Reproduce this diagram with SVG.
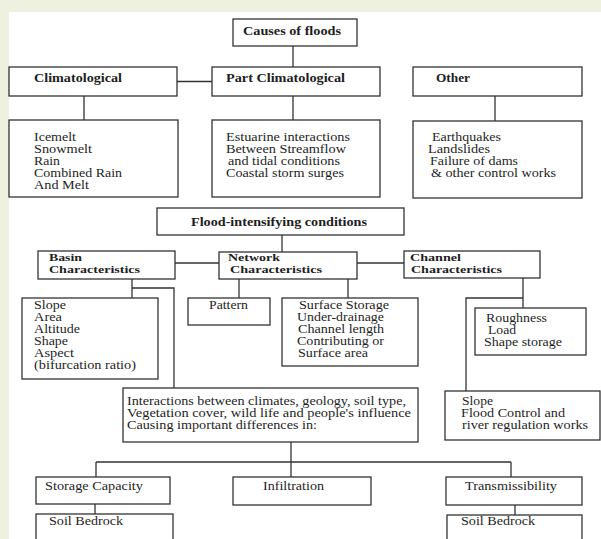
<svg xmlns="http://www.w3.org/2000/svg" width="601" height="539" viewBox="0 0 601 539">
<style>
.bx{fill:#fff;stroke:#333;stroke-width:1.3}
.ln{fill:none;stroke:#333;stroke-width:1.3}
text{font-family:"Liberation Serif","Times New Roman",serif;font-size:11.5px;fill:#1e1e1e}
.b{font-weight:bold;font-size:12px}
.b2{font-weight:bold;font-size:11px}
</style>
<rect x="0" y="0" width="601" height="539" fill="#eef0e0"/>
<rect x="9" y="12" width="592" height="527" fill="#fff"/>
<g id="connectors">
<line class="ln" x1="293" y1="46" x2="293" y2="67"/>
<line class="ln" x1="177" y1="81.5" x2="212" y2="81.5"/>
<line class="ln" x1="84" y1="96" x2="84" y2="120"/>
<line class="ln" x1="293" y1="96" x2="293" y2="120"/>
<line class="ln" x1="495" y1="96" x2="495" y2="121"/>
<line class="ln" x1="282" y1="235" x2="282" y2="252"/>
<line class="ln" x1="175" y1="263" x2="219" y2="263"/>
<line class="ln" x1="357" y1="263" x2="404" y2="263"/>
<line class="ln" x1="132" y1="279" x2="132" y2="298"/>
<polyline class="ln" points="132,288 174,288 174,388"/>
<line class="ln" x1="239" y1="279" x2="239" y2="298"/>
<line class="ln" x1="348" y1="279" x2="348" y2="298"/>
<line class="ln" x1="523" y1="278" x2="523" y2="308"/>
<polyline class="ln" points="523,298 466,298 466,391"/>
<line class="ln" x1="291" y1="442" x2="291" y2="477"/>
<line class="ln" x1="96" y1="462" x2="511" y2="462"/>
<line class="ln" x1="96" y1="462" x2="96" y2="477"/>
<line class="ln" x1="511" y1="462" x2="511" y2="477"/>
<line class="ln" x1="95" y1="504" x2="95" y2="514"/>
<line class="ln" x1="515" y1="505" x2="515" y2="515"/>
</g>
<g id="causes">
<rect class="bx" x="233" y="19" width="124" height="27"/>
<text class="b" x="243" y="35" textLength="98" lengthAdjust="spacingAndGlyphs">Causes of floods</text>
</g>
<g id="climatological">
<rect class="bx" x="9" y="67" width="168" height="29"/>
<text class="b" x="34" y="82" textLength="88" lengthAdjust="spacingAndGlyphs">Climatological</text>
</g>
<g id="part-climatological">
<rect class="bx" x="212" y="67" width="168" height="29"/>
<text class="b" x="226" y="82" textLength="119" lengthAdjust="spacingAndGlyphs">Part Climatological</text>
</g>
<g id="other">
<rect class="bx" x="413" y="67" width="169" height="29"/>
<text class="b" x="436" y="82" textLength="34" lengthAdjust="spacingAndGlyphs">Other</text>
</g>
<g id="climatological-list">
<rect class="bx" x="9" y="120" width="169" height="77"/>
<text x="34" y="141" textLength="42" lengthAdjust="spacingAndGlyphs">Icemelt</text>
<text x="34" y="153" textLength="58" lengthAdjust="spacingAndGlyphs">Snowmelt</text>
<text x="34" y="165" textLength="26" lengthAdjust="spacingAndGlyphs">Rain</text>
<text x="34" y="177" textLength="88" lengthAdjust="spacingAndGlyphs">Combined Rain</text>
<text x="34" y="189" textLength="55" lengthAdjust="spacingAndGlyphs">And Melt</text>
</g>
<g id="part-list">
<rect class="bx" x="212" y="120" width="168" height="77"/>
<text x="226" y="141" textLength="124" lengthAdjust="spacingAndGlyphs">Estuarine interactions</text>
<text x="226" y="153" textLength="120" lengthAdjust="spacingAndGlyphs">Between Streamflow</text>
<text x="228" y="165" textLength="112" lengthAdjust="spacingAndGlyphs">and tidal conditions</text>
<text x="226" y="177" textLength="118" lengthAdjust="spacingAndGlyphs">Coastal storm surges</text>
</g>
<g id="other-list">
<rect class="bx" x="413" y="121" width="169" height="77"/>
<text x="432" y="141" textLength="69" lengthAdjust="spacingAndGlyphs">Earthquakes</text>
<text x="428" y="153" textLength="62" lengthAdjust="spacingAndGlyphs">Landslides</text>
<text x="430" y="165" textLength="88" lengthAdjust="spacingAndGlyphs">Failure of dams</text>
<text x="431" y="177" textLength="125" lengthAdjust="spacingAndGlyphs">&amp; other control works</text>
</g>
<g id="flood-intensifying">
<rect class="bx" x="157" y="208" width="247" height="27"/>
<text class="b" x="191" y="226" textLength="176" lengthAdjust="spacingAndGlyphs">Flood-intensifying conditions</text>
</g>
<g id="basin">
<rect class="bx" x="38" y="251" width="137" height="28"/>
<text class="b2" x="49" y="261" textLength="33" lengthAdjust="spacingAndGlyphs">Basin</text>
<text class="b2" x="49" y="273" textLength="91" lengthAdjust="spacingAndGlyphs">Characteristics</text>
</g>
<g id="network">
<rect class="bx" x="219" y="252" width="138" height="27"/>
<text class="b2" x="228" y="261" textLength="52" lengthAdjust="spacingAndGlyphs">Network</text>
<text class="b2" x="230" y="273" textLength="92" lengthAdjust="spacingAndGlyphs">Characteristics</text>
</g>
<g id="channel">
<rect class="bx" x="404" y="251" width="136" height="27"/>
<text class="b2" x="410" y="261" textLength="51" lengthAdjust="spacingAndGlyphs">Channel</text>
<text class="b2" x="411" y="273" textLength="91" lengthAdjust="spacingAndGlyphs">Characteristics</text>
</g>
<g id="basin-list">
<rect class="bx" x="22" y="298" width="136" height="81"/>
<text x="34" y="309" textLength="32" lengthAdjust="spacingAndGlyphs">Slope</text>
<text x="34" y="321" textLength="28" lengthAdjust="spacingAndGlyphs">Area</text>
<text x="34" y="333" textLength="46" lengthAdjust="spacingAndGlyphs">Altitude</text>
<text x="34" y="345" textLength="34" lengthAdjust="spacingAndGlyphs">Shape</text>
<text x="34" y="357" textLength="40" lengthAdjust="spacingAndGlyphs">Aspect</text>
<text x="34" y="369" textLength="102" lengthAdjust="spacingAndGlyphs">(bifurcation ratio)</text>
</g>
<g id="pattern">
<rect class="bx" x="188" y="298" width="82" height="27"/>
<text x="209" y="309" textLength="39" lengthAdjust="spacingAndGlyphs">Pattern</text>
</g>
<g id="surface-storage">
<rect class="bx" x="282" y="298" width="136" height="68"/>
<text x="299" y="309" textLength="90" lengthAdjust="spacingAndGlyphs">Surface Storage</text>
<text x="297" y="321" textLength="87" lengthAdjust="spacingAndGlyphs">Under-drainage</text>
<text x="298" y="333" textLength="86" lengthAdjust="spacingAndGlyphs">Channel length</text>
<text x="297" y="345" textLength="87" lengthAdjust="spacingAndGlyphs">Contributing or</text>
<text x="298" y="357" textLength="70" lengthAdjust="spacingAndGlyphs">Surface area</text>
</g>
<g id="roughness">
<rect class="bx" x="475" y="308" width="111" height="47"/>
<text x="486" y="322" textLength="61" lengthAdjust="spacingAndGlyphs">Roughness</text>
<text x="488" y="334" textLength="28" lengthAdjust="spacingAndGlyphs">Load</text>
<text x="484" y="346" textLength="78" lengthAdjust="spacingAndGlyphs">Shape storage</text>
</g>
<g id="interactions">
<rect class="bx" x="123" y="388" width="295" height="54"/>
<text x="127" y="405" textLength="279" lengthAdjust="spacingAndGlyphs">Interactions between climates, geology, soil type,</text>
<text x="127" y="417" textLength="284" lengthAdjust="spacingAndGlyphs">Vegetation cover, wild life and people's influence</text>
<text x="127" y="429" textLength="190" lengthAdjust="spacingAndGlyphs">Causing important differences in:</text>
</g>
<g id="slope-flood-control">
<rect class="bx" x="445" y="391" width="155" height="49"/>
<text x="462" y="405" textLength="31" lengthAdjust="spacingAndGlyphs">Slope</text>
<text x="461" y="417" textLength="104" lengthAdjust="spacingAndGlyphs">Flood Control and</text>
<text x="462" y="429" textLength="126" lengthAdjust="spacingAndGlyphs">river regulation works</text>
</g>
<g id="storage-capacity">
<rect class="bx" x="36" y="477" width="134" height="27"/>
<text x="45" y="490" textLength="98" lengthAdjust="spacingAndGlyphs">Storage Capacity</text>
</g>
<g id="infiltration">
<rect class="bx" x="233" y="477" width="138" height="28"/>
<text x="263" y="490" textLength="61" lengthAdjust="spacingAndGlyphs">Infiltration</text>
</g>
<g id="transmissibility">
<rect class="bx" x="446" y="477" width="136" height="28"/>
<text x="465" y="490" textLength="92" lengthAdjust="spacingAndGlyphs">Transmissibility</text>
</g>
<g id="soil-bedrock-left">
<rect class="bx" x="36" y="514" width="137" height="40"/>
<text x="49" y="525" textLength="74" lengthAdjust="spacingAndGlyphs">Soil Bedrock</text>
</g>
<g id="soil-bedrock-right">
<rect class="bx" x="447" y="515" width="135" height="40"/>
<text x="461" y="525" textLength="74" lengthAdjust="spacingAndGlyphs">Soil Bedrock</text>
</g>
</svg>
